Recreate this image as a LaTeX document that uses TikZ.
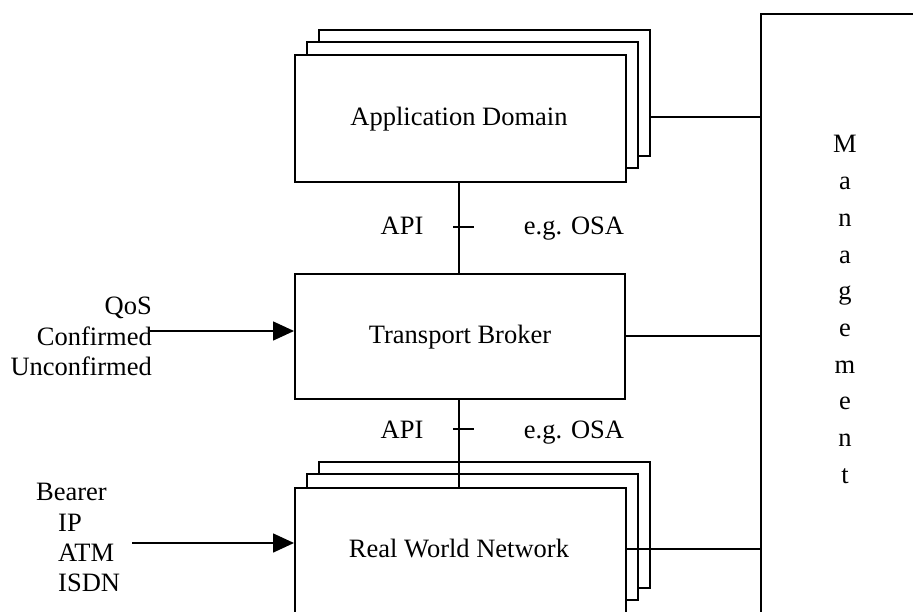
\documentclass[tikz,border=0pt]{standalone}
\usepackage{fontspec}
\setmainfont{Liberation Serif}
\usetikzlibrary{arrows.meta}

\begin{document}
\begin{tikzpicture}[x=1pt,y=-1pt,
  box/.style={draw, line width=1.8pt, fill=white, inner sep=0pt, anchor=north west,
              minimum width=331pt, minimum height=126pt},
  lbl/.style={font=\fontsize{26.5}{30}\selectfont, inner sep=0pt, anchor=base},
  wire/.style={line width=1.5pt},
  arr/.style={line width=1.6pt, -{Triangle[length=21pt,width=19pt]}}]

  % canvas
  \useasboundingbox[fill=white] (0,0) rectangle (913,612);

  % management column (runs off the right and bottom edges)
  \node[box, minimum width=170pt, minimum height=620pt] (mgmt) at (760,13) {};
  \foreach \c [count=\i from 0] in {M,a,n,a,g,e,m,e,n,t}
    \node[lbl] (mg-\i) at (845,{153+36.7*\i}) {\c};

  % application domain (stacked)
  \node[box] (app3) at (318,29) {};
  \node[box] (app2) at (306,41) {};
  \node[box, minimum height=127pt] (app) at (294,54) {};
  \node[lbl] (apptxt) at (459,126) {Application Domain};

  % transport broker
  \node[box, minimum width=330pt, minimum height=125pt] (tb) at (294,273) {};
  \node[lbl] (tbtxt) at (460,343) {Transport Broker};

  % real world network (stacked, runs off the bottom edge)
  \node[box] (rwn3) at (318,461) {};
  \node[box] (rwn2) at (306,473) {};
  \node[box, minimum height=140pt] (rwn) at (294,487) {};
  \node[lbl] (rwntxt) at (459,557) {Real World Network};

  % API links with interface ticks
  \draw[wire] (app.south -| 459,0) -- (tb.north -| 459,0);
  \draw[wire] (tb.south -| 459,0) -- (rwn.north -| 459,0);
  \coordinate (tick1a) at (453,227); \coordinate (tick1b) at (474,227);
  \coordinate (tick2a) at (453,429); \coordinate (tick2b) at (474,429);
  \draw[wire] (tick1a) -- (tick1b);
  \draw[wire] (tick2a) -- (tick2b);
  \node[lbl] (api1) at (402,235) {API};
  \node[lbl] (osa1) at (574,235) {e.g. OSA};
  \node[lbl] (api2) at (402,438) {API};
  \node[lbl] (osa2) at (574,438) {e.g. OSA};

  % links to management
  \draw[wire] (app3.east |- 0,117) -- (mgmt.west |- 0,117);
  \draw[wire] (tb.east |- 0,336) -- (mgmt.west |- 0,336);
  \draw[wire] (rwn.east |- 0,549) -- (mgmt.west |- 0,549);

  % QoS input
  \node[lbl, anchor=base east] (qos) at (152,315) {QoS};
  \node[lbl, anchor=base east] (conf) at (152,345) {Confirmed};
  \node[lbl, anchor=base east] (unconf) at (152,375) {Unconfirmed};
  \coordinate (qosin) at (150,331);
  \draw[arr] (qosin) -- (qosin -| tb.west);

  % bearer input
  \node[lbl, anchor=base west] (bearer) at (36,500) {Bearer};
  \node[lbl, anchor=base west] (ip) at (58,531) {IP};
  \node[lbl, anchor=base west] (atm) at (58,561) {ATM};
  \node[lbl, anchor=base west] (isdn) at (58,591) {ISDN};
  \coordinate (bearin) at (132,543);
  \draw[arr] (bearin) -- (bearin -| rwn.west);
\end{tikzpicture}
\end{document}
